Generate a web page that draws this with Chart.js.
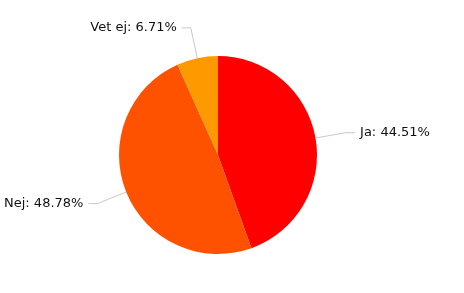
<!DOCTYPE html>
<html>
<head>
<meta charset="utf-8">
<script src="https://cdn.jsdelivr.net/npm/chart.js@4"></script>
<style>
  html, body { margin: 0; padding: 0; background: #fff; }
  #wrap { width: 464px; height: 293px; }
</style>
</head>
<body>
<div id="wrap"><canvas id="myChart"></canvas></div>
<script>
const categories = ['Ja', 'Nej', 'Vet ej'];
const shares = [44.51, 48.78, 6.71];
const sliceColors = ['#ff0000', '#ff5200', '#ff9900'];

// outside labels with leader lines, placed from each arc's own geometry
const outerLabels = {
  id: 'outerLabels',
  afterDraw(chart) {
    const ctx = chart.ctx;
    const arcs = chart.getDatasetMeta(0).data;
    ctx.save();
    ctx.font = '13px "DejaVu Sans", Verdana, sans-serif';
    ctx.textBaseline = 'middle';
    arcs.forEach((arc, i) => {
      const mid = (arc.startAngle + arc.endAngle) / 2;
      const r = arc.outerRadius;
      const cos = Math.cos(mid), sin = Math.sin(mid);
      const x0 = arc.x + cos * r, y0 = arc.y + sin * r;
      const x1 = arc.x + cos * (r + 31), y1 = arc.y + sin * (r + 31);
      const dir = cos >= 0 ? 1 : -1;
      const x2 = x1 + dir * 9;
      ctx.strokeStyle = '#c8c8c8';
      ctx.lineWidth = 1;
      ctx.beginPath();
      ctx.moveTo(x0, y0);
      ctx.lineTo(x1, y1);
      ctx.lineTo(x2, y1);
      ctx.stroke();
      ctx.fillStyle = '#111';
      ctx.textAlign = dir > 0 ? 'left' : 'right';
      ctx.fillText(categories[i] + ': ' + shares[i].toFixed(2) + '%', x2 + dir * 5, y1);
    });
    ctx.restore();
  }
};

new Chart(document.getElementById('myChart').getContext('2d'), {
  type: 'pie',
  data: {
    labels: categories,
    datasets: [{
      data: shares,
      backgroundColor: sliceColors,
      borderWidth: 0
    }]
  },
  options: {
    responsive: true,
    maintainAspectRatio: false,
    animation: false,
    layout: { padding: { left: 119, right: 147, top: 56, bottom: 39 } },
    plugins: {
      legend: { display: false },
      tooltip: { enabled: false }
    }
  },
  plugins: [outerLabels]
});
</script>
</body>
</html>
